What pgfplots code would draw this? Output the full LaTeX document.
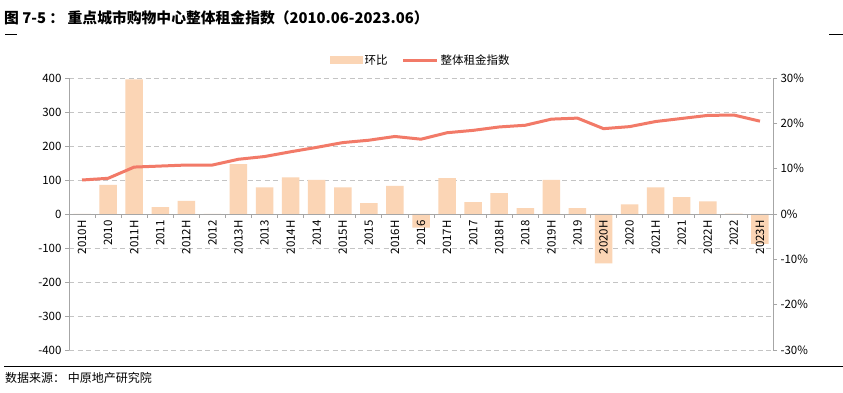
\documentclass[border=0pt]{standalone}
\usepackage{fontspec}
\setmainfont{Noto Sans CJK SC}
\usepackage{pgfplots}
\pgfplotsset{compat=1.18}
\usepackage{pgfplotstable}
\definecolor{barc}{HTML}{FBD5B5}
\definecolor{linec}{HTML}{F27A68}
\definecolor{gridc}{HTML}{C4C4C4}
\definecolor{axc}{HTML}{A6A6A6}

\pgfplotstableread{
x val
0 0
1 6.4
2 29.7
3 1.5
4 2.9
5 0
6 11.0
7 5.9
8 8.1
9 7.5
10 5.9
11 2.4
12 6.2
13 -3.0
14 7.9
15 2.6
16 4.6
17 1.3
18 7.5
19 1.3
20 -10.9
21 2.1
22 5.9
23 3.7
24 2.8
25 0.1
26 -6.6
}\barsdata

\pgfplotstableread{
x idx
0 100
1 105
2 138
3 141
4 144
5 144
6 161
7 169
8 183
9 196
10 210
11 217
12 228
13 220
14 239
15 246
16 256
17 261
18 279
19 282
20 251
21 257
22 272
23 281
24 290
25 291
26 273
}\linedata

\begin{document}
\begin{tikzpicture}[x=1pt,y=1pt]
\useasboundingbox (0pt,0pt) rectangle (843pt,393pt);
\fill[white] (0pt,0pt) rectangle (843pt,393pt);
\node[anchor=west,inner sep=0pt,font=\bfseries\fontsize{14.8}{17}\selectfont] at (4pt,375pt) {图 7-5 ： 重点城市购物中心整体租金指数（2010.06-2023.06）};
\draw[black,line width=0.9pt] (5pt,359pt) -- (17pt,359pt);
\draw[black,line width=0.9pt] (829pt,359pt) -- (843pt,359pt);
\draw[black,line width=0.9pt] (4pt,27pt) -- (843pt,27pt);
\node[anchor=west,inner sep=0pt,font=\fontsize{12}{14}\selectfont] at (5pt,15pt) {数据来源： 中原地产研究院};

% axis 1: gridlines + left axis
\begin{axis}[
  at={(69pt,43pt)}, anchor=south west,
  width=704pt, height=272pt, scale only axis,
  xmin=-0.5, xmax=26.5, ymin=-400, ymax=400,
  ytick={-400,-300,...,400},
  ymajorgrids, grid style={dash pattern=on 5pt off 3.5pt, gridc, line width=0.8pt},
  axis x line=none, axis y line*=left,
  y axis line style={axc, line width=0.9pt, -},
  ytick style={axc, line width=0.8pt},
  tick align=outside, major tick length=4pt,
  /pgf/number format/assume math mode=true,
  yticklabel style={font=\fontsize{11.5}{13}\selectfont, text=black},
]
\end{axis}

% axis 2: bars on right axis (percent)
\begin{axis}[
  at={(69pt,43pt)}, anchor=south west,
  width=704pt, height=272pt, scale only axis,
  xmin=-0.5, xmax=26.5, ymin=-30, ymax=30,
  ytick={-30,-20,...,30},
  yticklabel={\pgfmathprintnumber{\tick}\%},
  axis x line=none, axis y line*=right,
  y axis line style={axc, line width=0.9pt, -},
  ytick style={axc, line width=0.8pt},
  tick align=outside, major tick length=4pt,
  /pgf/number format/assume math mode=true,
  yticklabel style={font=\fontsize{11.5}{13}\selectfont, text=black},
]
\addplot[ybar, bar width=17.5pt, fill=barc, draw=none] table[x=x,y=val] {\barsdata};
\end{axis}

% axis 3: index line + category axis at zero
\begin{axis}[
  at={(69pt,43pt)}, anchor=south west,
  width=704pt, height=272pt, scale only axis,
  xmin=-0.5, xmax=26.5, ymin=-400, ymax=400,
  axis y line=none, axis x line=middle,
  x axis line style={axc, line width=0.9pt, -},
  hide obscured x ticks=false,
  xtick={0,...,26},
  xticklabels={2010H,2010,2011H,2011,2012H,2012,2013H,2013,2014H,2014,2015H,2015,2016H,2016,2017H,2017,2018H,2018,2019H,2019,2020H,2020,2021H,2021,2022H,2022,2023H},
  major x tick style={draw=none},
  minor xtick={-0.5,0.5,...,26.5},
  minor x tick style={axc, line width=0.8pt},
  minor tick length=4pt,
  tick align=outside,
  x tick label style={rotate=90, anchor=east, font=\fontsize{11.5}{13}\selectfont, text=black, inner sep=2pt},
  legend style={at={(0.5,1)}, anchor=south, yshift=8pt, draw=none, fill=none,
    legend columns=2, font=\fontsize{11.5}{13}\selectfont,
    /tikz/every even column/.append style={column sep=12pt}},
]
\addlegendimage{legend image code/.code={\fill[barc] (0pt,-3.5pt) rectangle (32pt,3.5pt);}}
\addlegendentry{环比}
\addlegendimage{legend image code/.code={\draw[linec, line width=3pt] (0pt,0pt) -- (34pt,0pt);}}
\addlegendentry{整体租金指数}
\addplot[linec, line width=3pt, line join=round, no markers] table[x=x,y=idx] {\linedata};
\end{axis}
\end{tikzpicture}
\end{document}
